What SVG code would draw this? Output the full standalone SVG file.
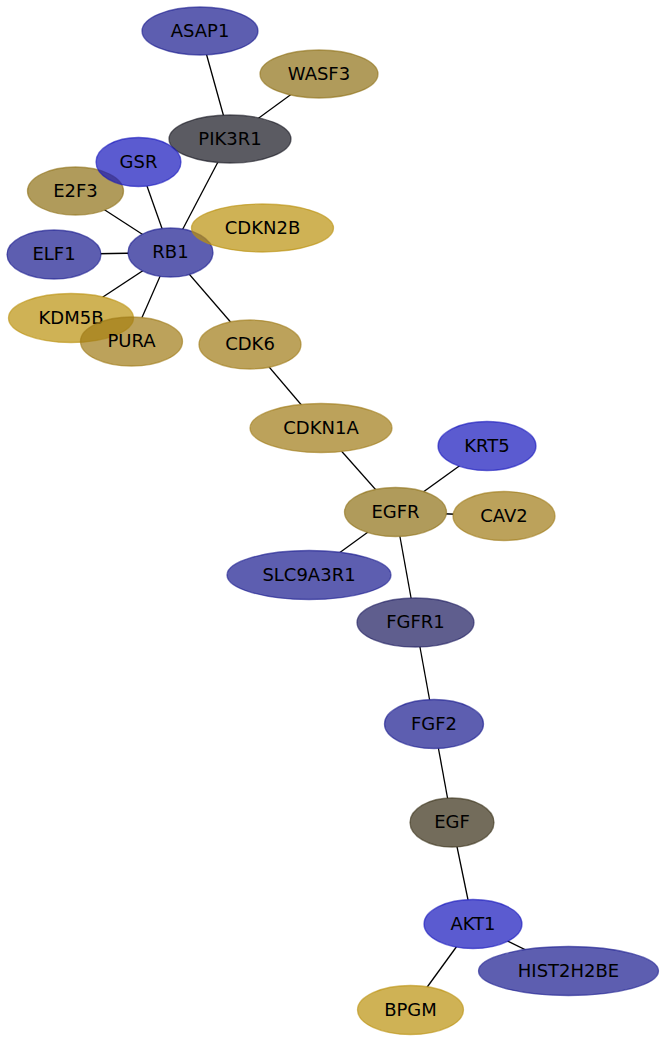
<svg xmlns="http://www.w3.org/2000/svg" width="665" height="1041" viewBox="0 0 665 1041">
<style>
.n{fill-opacity:0.7;stroke-opacity:0.6;stroke-width:1.3}
.b1{fill:#18198e;stroke:#18198e}
.b2{fill:#1515bc;stroke:#1515bc}
.g1{fill:#8e7016;stroke:#8e7016}
.g2{fill:#ba910d;stroke:#ba910d}
.g3{fill:#9f7a16;stroke:#9f7a16}
.gr{fill:#151620;stroke:#151620}
.nv{fill:#1b195e;stroke:#1b195e}
.ol{fill:#372e16;stroke:#372e16}
text{font-family:"DejaVu Sans","Liberation Sans",sans-serif;font-size:18px;fill:#000;text-anchor:middle}
#edges line{stroke:#000;stroke-width:1.3}
</style>
<defs>
<mask id="m" maskUnits="userSpaceOnUse" x="0" y="0" width="665" height="1041">
<rect x="0" y="0" width="665" height="1041" fill="#fff"/>
<g fill="#000">
<ellipse cx="200" cy="31" rx="58" ry="24"/>
<ellipse cx="319" cy="74" rx="59" ry="24"/>
<ellipse cx="230" cy="139" rx="61" ry="24"/>
<ellipse cx="75.5" cy="191" rx="48" ry="24"/>
<ellipse cx="138.5" cy="162" rx="42.5" ry="24.5"/>
<ellipse cx="54" cy="254.5" rx="47" ry="24.5"/>
<ellipse cx="170.5" cy="252.5" rx="42.5" ry="24.5"/>
<ellipse cx="262.5" cy="228" rx="71" ry="24"/>
<ellipse cx="71" cy="318" rx="62.5" ry="24.5"/>
<ellipse cx="131.5" cy="341.5" rx="51" ry="24.5"/>
<ellipse cx="250" cy="344.5" rx="51" ry="24.5"/>
<ellipse cx="321" cy="428" rx="71" ry="24.5"/>
<ellipse cx="487" cy="446" rx="49" ry="24.5"/>
<ellipse cx="395.5" cy="512" rx="51" ry="24.5"/>
<ellipse cx="504" cy="516" rx="51" ry="24.5"/>
<ellipse cx="309" cy="575" rx="82" ry="24.5"/>
<ellipse cx="415.5" cy="622.5" rx="58.5" ry="24.5"/>
<ellipse cx="434" cy="724" rx="49.5" ry="24.5"/>
<ellipse cx="452" cy="822.5" rx="42" ry="24.5"/>
<ellipse cx="473" cy="924" rx="49" ry="24.5"/>
<ellipse cx="568.5" cy="971" rx="90" ry="24.5"/>
<ellipse cx="410.5" cy="1010" rx="53" ry="24.5"/>
</g>
</mask>
</defs>
<rect x="0" y="0" width="665" height="1041" fill="#fff"/>
<g id="edges" mask="url(#m)">
<line x1="200" y1="31" x2="230" y2="139"/>
<line x1="319" y1="74" x2="230" y2="139"/>
<line x1="230" y1="139" x2="170.5" y2="252.5"/>
<line x1="138.5" y1="162" x2="170.5" y2="252.5"/>
<line x1="75.5" y1="191" x2="170.5" y2="252.5"/>
<line x1="54" y1="254.5" x2="170.5" y2="252.5"/>
<line x1="71" y1="318" x2="170.5" y2="252.5"/>
<line x1="131.5" y1="341.5" x2="170.5" y2="252.5"/>
<line x1="250" y1="344.5" x2="170.5" y2="252.5"/>
<line x1="250" y1="344.5" x2="321" y2="428"/>
<line x1="321" y1="428" x2="395.5" y2="512"/>
<line x1="487" y1="446" x2="395.5" y2="512"/>
<line x1="504" y1="516" x2="395.5" y2="512"/>
<line x1="309" y1="575" x2="395.5" y2="512"/>
<line x1="395.5" y1="512" x2="415.5" y2="622.5"/>
<line x1="415.5" y1="622.5" x2="434" y2="724"/>
<line x1="434" y1="724" x2="452" y2="822.5"/>
<line x1="452" y1="822.5" x2="473" y2="924"/>
<line x1="473" y1="924" x2="568.5" y2="971"/>
<line x1="473" y1="924" x2="410.5" y2="1010"/>
</g>
<g id="ASAP1"><ellipse class="n b1" cx="200" cy="31" rx="58" ry="24"/><text x="200" y="36.5">ASAP1</text></g>
<g id="WASF3"><ellipse class="n g1" cx="319" cy="74" rx="59" ry="24"/><text x="319" y="79.5">WASF3</text></g>
<g id="PIK3R1"><ellipse class="n gr" cx="230" cy="139" rx="61" ry="24"/><text x="230" y="144.5">PIK3R1</text></g>
<g id="E2F3"><ellipse class="n g1" cx="75.5" cy="191" rx="48" ry="24"/><text x="75.5" y="196.5">E2F3</text></g>
<g id="GSR"><ellipse class="n b2" cx="138.5" cy="162" rx="42.5" ry="24.5"/><text x="138.5" y="167.5">GSR</text></g>
<g id="ELF1"><ellipse class="n b1" cx="54" cy="254.5" rx="47" ry="24.5"/><text x="54" y="260">ELF1</text></g>
<g id="RB1"><ellipse class="n b1" cx="170.5" cy="252.5" rx="42.5" ry="24.5"/><text x="170.5" y="258">RB1</text></g>
<g id="CDKN2B"><ellipse class="n g2" cx="262.5" cy="228" rx="71" ry="24"/><text x="262.5" y="233.5">CDKN2B</text></g>
<g id="KDM5B"><ellipse class="n g2" cx="71" cy="318" rx="62.5" ry="24.5"/><text x="71" y="323.5">KDM5B</text></g>
<g id="PURA"><ellipse class="n g3" cx="131.5" cy="341.5" rx="51" ry="24.5"/><text x="131.5" y="347">PURA</text></g>
<g id="CDK6"><ellipse class="n g3" cx="250" cy="344.5" rx="51" ry="24.5"/><text x="250" y="350">CDK6</text></g>
<g id="CDKN1A"><ellipse class="n g3" cx="321" cy="428" rx="71" ry="24.5"/><text x="321" y="433.5">CDKN1A</text></g>
<g id="KRT5"><ellipse class="n b2" cx="487" cy="446" rx="49" ry="24.5"/><text x="487" y="451.5">KRT5</text></g>
<g id="EGFR"><ellipse class="n g1" cx="395.5" cy="512" rx="51" ry="24.5"/><text x="395.5" y="517.5">EGFR</text></g>
<g id="CAV2"><ellipse class="n g3" cx="504" cy="516" rx="51" ry="24.5"/><text x="504" y="521.5">CAV2</text></g>
<g id="SLC9A3R1"><ellipse class="n b1" cx="309" cy="575" rx="82" ry="24.5"/><text x="309" y="580.5">SLC9A3R1</text></g>
<g id="FGFR1"><ellipse class="n nv" cx="415.5" cy="622.5" rx="58.5" ry="24.5"/><text x="415.5" y="628">FGFR1</text></g>
<g id="FGF2"><ellipse class="n b1" cx="434" cy="724" rx="49.5" ry="24.5"/><text x="434" y="729.5">FGF2</text></g>
<g id="EGF"><ellipse class="n ol" cx="452" cy="822.5" rx="42" ry="24.5"/><text x="452" y="828">EGF</text></g>
<g id="AKT1"><ellipse class="n b2" cx="473" cy="924" rx="49" ry="24.5"/><text x="473" y="929.5">AKT1</text></g>
<g id="HIST2H2BE"><ellipse class="n b1" cx="568.5" cy="971" rx="90" ry="24.5"/><text x="568.5" y="976.5">HIST2H2BE</text></g>
<g id="BPGM"><ellipse class="n g2" cx="410.5" cy="1010" rx="53" ry="24.5"/><text x="410.5" y="1015.5">BPGM</text></g>
</svg>
